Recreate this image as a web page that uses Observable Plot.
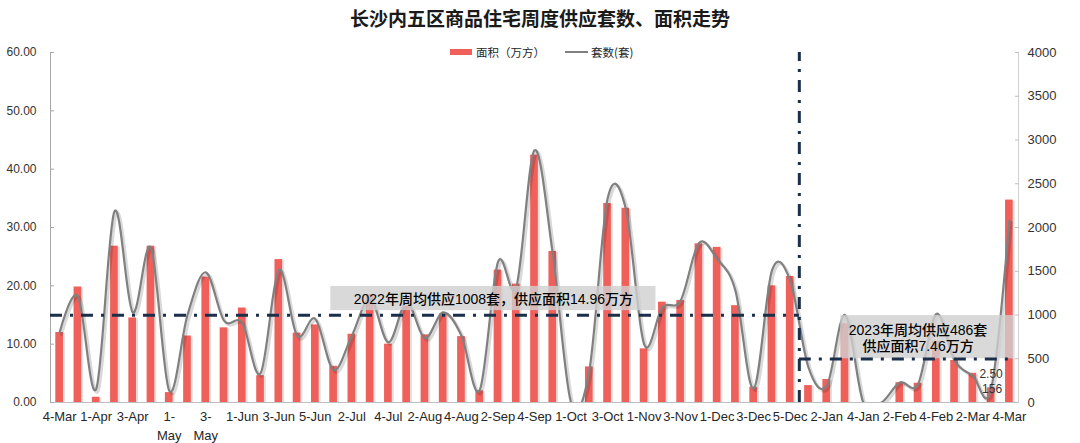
<!DOCTYPE html>
<html>
<head>
<meta charset="utf-8">
<script src="https://cdn.jsdelivr.net/npm/d3@7"></script>
<script src="https://cdn.jsdelivr.net/npm/@observablehq/plot@0.6"></script>
<style>
  html, body { margin: 0; padding: 0; background: #fff; }
  #chart { position: relative; width: 1080px; height: 443px; font-family: "Liberation Sans", "Noto Sans CJK SC", sans-serif; }
  #title { position: absolute; left: 0; top: 8px; width: 1080px; text-align: center; font: bold 19px/20px "Noto Sans CJK SC", sans-serif; color: #1a1a1a; z-index: 2; }
  .legend { position: absolute; top: 44px; height: 16px; display: flex; align-items: center; font: 11.5px/16px "Noto Sans CJK SC", sans-serif; color: #262626; z-index: 2; }
  .swatch-bar { width: 22px; height: 6px; background: #F0605B; margin-right: 4px; }
  .swatch-line { width: 23px; height: 2.5px; background: #808080; margin-right: 3px; }
  #chart svg { position: absolute; left: 0; top: 0; }
</style>
</head>
<body>
<div id="chart">
  <div id="title">长沙内五区商品住宅周度供应套数、面积走势</div>
  <div class="legend" style="left:450px"><span class="swatch-bar"></span>面积（万方）</div>
  <div class="legend" style="left:565px"><span class="swatch-line"></span>套数(套)</div>
</div>
<script>
// Weekly categories, 2022 week 4 of March through 2023 week 4 of March
const weeks = [
  "4-Mar", "5-Mar", "1-Apr", "2-Apr", "3-Apr", "4-Apr",
  "1-May", "2-May", "3-May", "4-May",
  "1-Jun", "2-Jun", "3-Jun", "4-Jun", "5-Jun",
  "1-Jul", "2-Jul", "3-Jul", "4-Jul",
  "1-Aug", "2-Aug", "3-Aug", "4-Aug",
  "1-Sep", "2-Sep", "3-Sep", "4-Sep", "5-Sep",
  "1-Oct", "2-Oct", "3-Oct", "4-Oct",
  "1-Nov", "2-Nov", "3-Nov", "4-Nov",
  "1-Dec", "2-Dec", "3-Dec", "4-Dec", "5-Dec",
  "1-Jan", "2-Jan", "3-Jan", "4-Jan",
  "1-Feb", "2-Feb", "3-Feb", "4-Feb",
  "1-Mar", "2-Mar", "3-Mar", "4-Mar"
];

// Supplied floor area per week (万方, left axis)
const area = [
  12.0, 19.8, 0.9, 26.8, 14.5, 26.8,
  1.7, 11.4, 21.5, 12.8,
  16.2, 4.6, 24.5, 11.9, 13.3,
  6.2, 11.7, 18.5, 10.0,
  16.5, 11.6, 15.2, 11.3,
  2.0, 22.7, 20.3, 42.4, 25.9,
  0, 6.1, 34.1, 33.3,
  9.2, 17.2, 17.5, 27.2,
  26.6, 16.6, 2.6, 20.0, 21.6,
  2.9, 3.95, 13.5, 0,
  0, 3.4, 3.3, 10.5,
  7.2, 5.0, 2.50, 34.7
];

// Supplied units per week (套, right axis)
const units = [
  800, 1214, 153, 2183, 1030, 1767,
  134, 1000, 1488, 935,
  910, 332, 1515, 763, 955,
  371, 763, 1190, 687,
  1145, 735, 1030, 763,
  142, 1603, 1317, 2882, 1699,
  0, 363, 2328, 2214,
  668, 1088, 1164, 1820,
  1641, 1279, 160, 1508, 1393,
  400, 190, 1000, 0,
  0, 229, 210, 1012,
  477, 305, 156, 2080
];

// Yearly weekly averages
const averages = [
  {year: 2022, units: 1008, area: 14.96},
  {year: 2023, units: 486, area: 7.46}
];

// Axis ticks
const areaTicks = [0, 10, 20, 30, 40, 50, 60];
const unitTicks = [0, 500, 1000, 1500, 2000, 2500, 3000, 3500, 4000];
const wrappedLabels = ["1-May", "3-May"];
const labeledWeeks = [51];

const k = 60 / 4000; // maps 套 onto the area axis
const rows = weeks.map((week, i) => ({i, week, area: area[i], units: units[i], scaled: units[i] * k}));
const split = weeks.indexOf("1-Jan") - 0.5;   // boundary between 2022 and 2023
const last = weeks.length - 1;

const navy = "#1B2F4B";
const dash = "12,8,3,8";
const fonts = '"Liberation Sans", "Noto Sans CJK SC", sans-serif';

// Annotation boxes for the averages (positions in data space)
const notes = [
  {x1: 14.85, x2: 32.65, y1: 15.75, y2: 19.9, x: 23.75, y: 17.8,
   text: `${averages[0].year}年周均供应${averages[0].units}套，供应面积${averages[0].area}万方`},
  {x1: 42.77, x2: 52.24, y1: 7.5, y2: 14.9, x: 47.0, y: 11.1,
   text: `${averages[1].year}年周均供应${averages[1].units}套\n供应面积${averages[1].area}万方`}
];

const barOpts = {x1: d => d.i - 0.5, x2: d => d.i + 0.5, y: "area", insetLeft: 5.3, insetRight: 5.3};
const lineOpts = {x: "i", y: "scaled", curve: "cardinal", clip: true};

const plot = Plot.plot({
  width: 1080,
  height: 443,
  marginTop: 52,
  marginBottom: 41,
  marginLeft: 50,
  marginRight: 62,
  style: {fontFamily: fonts, background: "transparent"},
  x: {type: "linear", domain: [-0.5, weeks.length - 0.5]},
  y: {domain: [0, 60]},
  marks: [
    // bar shadows, then bars: floor area
    Plot.rectY(rows, {...barOpts, fill: "#000", fillOpacity: 0.12, dx: 2, dy: 1}),
    Plot.rectY(rows, {...barOpts, fill: "#F0605B"}),
    // line shadow, then smoothed line: units
    Plot.line(rows, {...lineOpts, stroke: "#000", strokeOpacity: 0.15, strokeWidth: 3, dx: 2, dy: 2}),
    Plot.line(rows, {...lineOpts, stroke: "#808080", strokeWidth: 2.2}),
    // axis lines
    Plot.ruleY([0], {stroke: "#bfbfbf"}),
    Plot.ruleX([-0.5], {stroke: "#a6a6a6"}),
    Plot.ruleX([weeks.length - 0.5], {stroke: "#d0d0d0"}),
    // annotation boxes
    Plot.rect(notes, {x1: "x1", x2: "x2", y1: "y1", y2: "y2", fill: "#cfcfcf", fillOpacity: 0.8}),
    // average lines and year divider
    Plot.ruleY([averages[0].area], {x1: -0.5, x2: split, stroke: navy, strokeWidth: 3, strokeDasharray: dash}),
    Plot.ruleY([averages[1].area], {x1: split, x2: last, stroke: navy, strokeWidth: 3, strokeDasharray: dash}),
    Plot.ruleX([split], {y1: 0, y2: 60, stroke: navy, strokeWidth: 3, strokeDasharray: dash}),
    // annotation texts
    Plot.text(notes, {
      x: "x", y: "y", text: "text", fontSize: 14, fill: "#000", lineHeight: 1.15,
      fontWeight: 500, fontFamily: fonts
    }),
    // data labels
    Plot.text(labeledWeeks.map(i => rows[i]), {x: "i", y: "area", text: d => d.area.toFixed(2), dy: -14, fontSize: 12, fill: "#333"}),
    Plot.text(labeledWeeks.map(i => rows[i]), {x: "i", y: "scaled", text: d => String(d.units), dx: 1, fontSize: 12, fill: "#333"}),
    // axes
    Plot.axisY(areaTicks, {
      anchor: "left", tickSize: -4, tickPadding: 18, tickFormat: d3.format(".2f"),
      fontSize: 12, stroke: "#a6a6a6", fill: "#333", label: null
    }),
    Plot.axisY(unitTicks.map(v => v * k), {
      anchor: "right", tickSize: -4, tickPadding: 13, tickFormat: d => String(Math.round(d / k)),
      fontSize: 13, stroke: "#bfbfbf", fill: "#333", label: null
    }),
    Plot.axisX(d3.range(0, weeks.length, 2), {
      tickSize: 0, tickPadding: 6, fontSize: 13, fill: "#262626", lineHeight: 1.4, label: null,
      tickFormat: i => wrappedLabels.includes(weeks[i]) ? weeks[i].replace("-", "-\n") : weeks[i]
    })
  ]
});

document.getElementById("chart").prepend(plot);
</script>
</body>
</html>
